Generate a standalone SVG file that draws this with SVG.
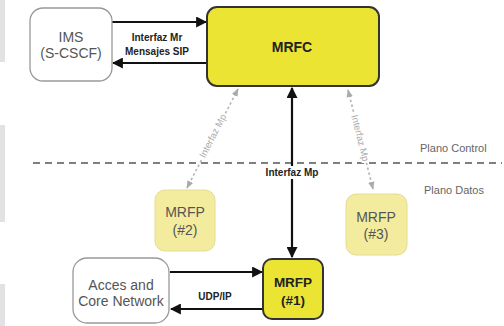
<svg xmlns="http://www.w3.org/2000/svg" width="504" height="326" viewBox="0 0 504 326">
<style>
text{font-family:"Liberation Sans",Arial,sans-serif;text-anchor:middle}
.lbl{font-size:10px;font-weight:bold;fill:#222}
.gray{font-size:14px;fill:#555}
.plane{font-size:11px;fill:#666;text-anchor:start}
.dot{font-size:9.5px;fill:#aaa}
.solid{stroke:#111;stroke-width:2.2;fill:none}
.dotted{stroke:#b5b5b5;stroke-width:1.6;stroke-dasharray:2.5 2.5;fill:none}
</style>
<defs>
<marker id="ah" viewBox="0 0 10 10" refX="9" refY="5" markerWidth="5" markerHeight="5" orient="auto-start-reverse" markerUnits="strokeWidth">
<path d="M0,0L10,5L0,10z" fill="#111"/>
</marker>
<marker id="ahg" viewBox="0 0 10 10" refX="9" refY="5" markerWidth="5" markerHeight="5" orient="auto-start-reverse" markerUnits="strokeWidth">
<path d="M0,1L10,5L0,9z" fill="#aaa"/>
</marker>
</defs>
<rect width="504" height="326" fill="#fff"/>
<g id="side-bars" fill="#e1e2e4">
<rect x="0" y="0" width="5" height="62"/>
<rect x="0" y="125" width="5" height="97"/>
<rect x="0" y="284" width="5" height="42"/>
</g>
<g id="planes">
<line x1="33" y1="163" x2="502" y2="163" stroke="#555" stroke-width="1.6" stroke-dasharray="7 5"/>
<text class="plane" x="420" y="152">Plano Control</text>
<text class="plane" x="424" y="194">Plano Datos</text>
</g>
<g id="connectors">
<line class="solid" x1="112" y1="22" x2="206" y2="22" marker-end="url(#ah)"/>
<line class="solid" x1="206" y1="63" x2="113" y2="63" marker-end="url(#ah)"/>
<text class="lbl" x="157" y="41">Interfaz Mr</text>
<text class="lbl" x="157" y="55">Mensajes SIP</text>
<line class="solid" x1="292" y1="88" x2="292" y2="257" marker-start="url(#ah)" marker-end="url(#ah)"/>
<rect x="261" y="166" width="63" height="13" fill="#fff"/>
<text class="lbl" x="292" y="176" font-size="11">Interfaz Mp</text>
<line class="solid" x1="170" y1="272" x2="262" y2="272" marker-end="url(#ah)"/>
<line class="solid" x1="262" y1="309" x2="171" y2="309" marker-end="url(#ah)"/>
<text class="lbl" x="215" y="300">UDP/IP</text>
<line class="dotted" x1="238" y1="89" x2="187" y2="188" marker-start="url(#ahg)" marker-end="url(#ahg)"/>
<text class="dot" transform="translate(213,136) rotate(-62.7)" dy="3" stroke="#fff" stroke-width="4" paint-order="stroke">Interfaz Mp</text>
<line class="dotted" x1="348" y1="90" x2="373" y2="189" marker-start="url(#ahg)" marker-end="url(#ahg)"/>
<text class="dot" transform="translate(360,138) rotate(75.8)" dy="3" stroke="#fff" stroke-width="4" paint-order="stroke">Interfaz Mp</text>
</g>
<g id="ims">
<rect x="30" y="8" width="82" height="73" rx="13" fill="#fff" stroke="#999" stroke-width="1.3"/>
<text class="gray" x="71" y="42">IMS</text>
<text class="gray" x="71" y="58">(S-CSCF)</text>
</g>
<g id="mrfc">
<rect x="207" y="7" width="172" height="79" rx="10" fill="#ece433" stroke="#333" stroke-width="2"/>
<text x="292" y="52" font-size="14" font-weight="bold" fill="#222">MRFC</text>
</g>
<g id="mrfp2">
<rect x="155" y="190" width="60" height="61" rx="10" fill="#f3ec9e" stroke="#e4dc94" stroke-width="1"/>
<text class="gray" x="185" y="217" font-size="13.5">MRFP</text>
<text class="gray" x="185" y="235" font-size="13.5">(#2)</text>
</g>
<g id="mrfp3">
<rect x="346" y="194" width="61" height="61" rx="10" fill="#f3ec9e" stroke="#e4dc94" stroke-width="1"/>
<text class="gray" x="376" y="222" font-size="13.5">MRFP</text>
<text class="gray" x="376" y="239" font-size="13.5">(#3)</text>
</g>
<g id="mrfp1">
<rect x="263" y="259" width="60" height="60" rx="9" fill="#ece433" stroke="#333" stroke-width="2"/>
<text x="293" y="287" font-size="13.5" font-weight="bold" fill="#222">MRFP</text>
<text x="293" y="305" font-size="13.5" font-weight="bold" fill="#222">(#1)</text>
</g>
<g id="access">
<rect x="73" y="258" width="96" height="65" rx="14" fill="#fff" stroke="#999" stroke-width="1.3"/>
<text class="gray" x="121" y="290" font-size="12">Acces and</text>
<text class="gray" x="121" y="306" font-size="12">Core Network</text>
</g>
</svg>
